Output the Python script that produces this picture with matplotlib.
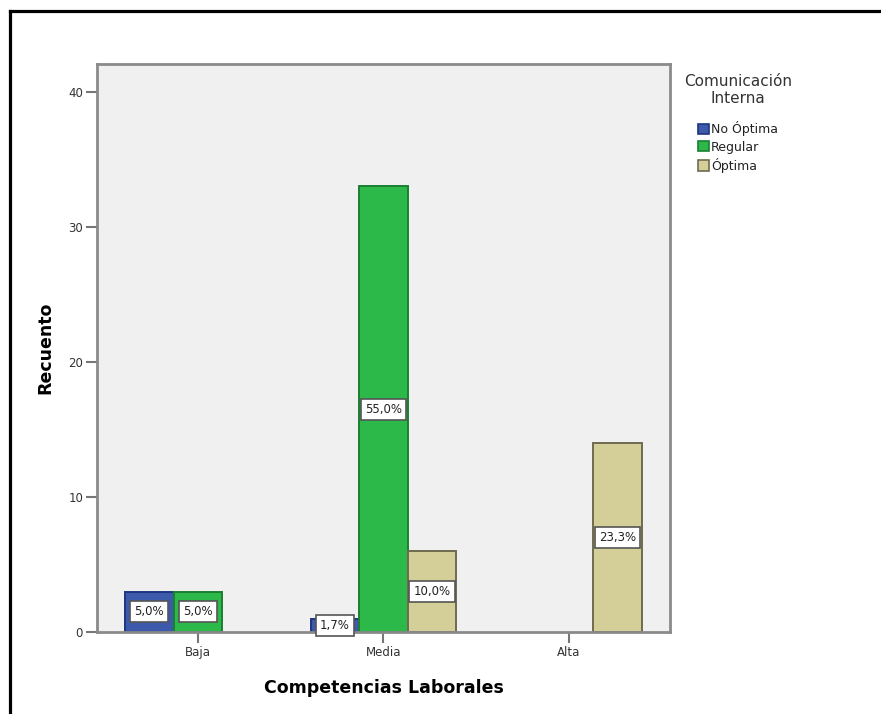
"""Clustered bar chart: Competencias Laborales by Comunicación Interna (counts)."""

import matplotlib
matplotlib.use("Agg")
import matplotlib.pyplot as plt
from matplotlib.lines import Line2D
from matplotlib.patches import Patch

plt.rcParams["font.family"] = ["DejaVu Sans"]

# ---------------------------------------------------------------------------
# Data
# ---------------------------------------------------------------------------
categories = ["Baja", "Media", "Alta"]
groups = ["No Óptima", "Regular", "Óptima"]
counts = {
    "No Óptima": [3, 1, 0],
    "Regular": [3, 33, 0],
    "Óptima": [0, 6, 14],
}
pct_labels = {
    "No Óptima": ["5,0%", "1,7%", None],
    "Regular": ["5,0%", "55,0%", None],
    "Óptima": [None, "10,0%", "23,3%"],
}
y_ticks = [0, 10, 20, 30, 40]

fill_colors = {"No Óptima": "#3D59AB", "Regular": "#2DB84A", "Óptima": "#D4CE98"}
edge_colors = {"No Óptima": "#1E3480", "Regular": "#1B7F31", "Óptima": "#6E6B50"}

BAR_W = 0.262
offsets = {"No Óptima": -1, "Regular": 0, "Óptima": 1}

# ---------------------------------------------------------------------------
# Figure
# ---------------------------------------------------------------------------
fig = plt.figure(figsize=(8.81, 7.14), dpi=100)
ax = fig.add_axes([0.1101, 0.1148, 0.6504, 0.7955])
ax.set_facecolor("#F0F0F0")

for g in groups:
    for i, v in enumerate(counts[g]):
        if v == 0:
            continue
        x = i + offsets[g] * BAR_W
        ax.bar(x, v, width=BAR_W, color=fill_colors[g],
               edgecolor=edge_colors[g], linewidth=1.4, zorder=2)
        lab = pct_labels[g][i]
        if lab:
            ax.text(x, v / 2, lab, ha="center", va="center", fontsize=8.5,
                    color="#222222", zorder=4,
                    bbox=dict(boxstyle="square,pad=0.35", fc="white",
                              ec="#555555", lw=1.2))

ax.set_xlim(-0.544, 2.544)
ax.set_ylim(0, 42.07)
ax.set_xticks(range(len(categories)))
ax.set_xticklabels(categories)
ax.set_yticks(y_ticks)
ax.tick_params(axis="both", direction="out", length=8, width=1.5,
               color="#777777", labelsize=8.5, labelcolor="#333333", pad=2)

for sp in ax.spines.values():
    sp.set_color("#8A8A8A")
    sp.set_linewidth(2)

ax.set_xlabel("Competencias Laborales", fontsize=12.5, fontweight="bold")
ax.set_ylabel("Recuento", fontsize=12.5, fontweight="bold")
ax.xaxis.set_label_coords(0.5, -0.0986)
ax.xaxis.label.set_va("center")
ax.yaxis.set_label_coords(-0.0908, 0.5)
ax.yaxis.label.set_va("center")

handles = [Patch(facecolor=fill_colors[g], edgecolor=edge_colors[g],
                 linewidth=1.2, label=g) for g in groups]
leg = fig.legend(handles=handles, title="Comunicación\nInterna",
                 loc="upper center", bbox_to_anchor=(0.8377, 0.897),
                 frameon=False, fontsize=9, title_fontsize=11,
                 handlelength=0.9, handleheight=0.9, handletextpad=0.15,
                 labelspacing=0.35, borderaxespad=0, borderpad=0)
leg.get_title().set_color("#333333")
leg.get_title().set_multialignment("center")
leg._legend_box.sep = 11
for t in leg.get_texts():
    t.set_color("#222222")

# frame lines along the top and left edge
fig.add_artist(Line2D([0.0119, 1.0], [0.9839, 0.9839], color="black",
                      linewidth=2.3, transform=fig.transFigure))
fig.add_artist(Line2D([0.0119, 0.0119], [0.0, 0.9839], color="black",
                      linewidth=2.3, transform=fig.transFigure))

fig.savefig("out.png", dpi=100)
